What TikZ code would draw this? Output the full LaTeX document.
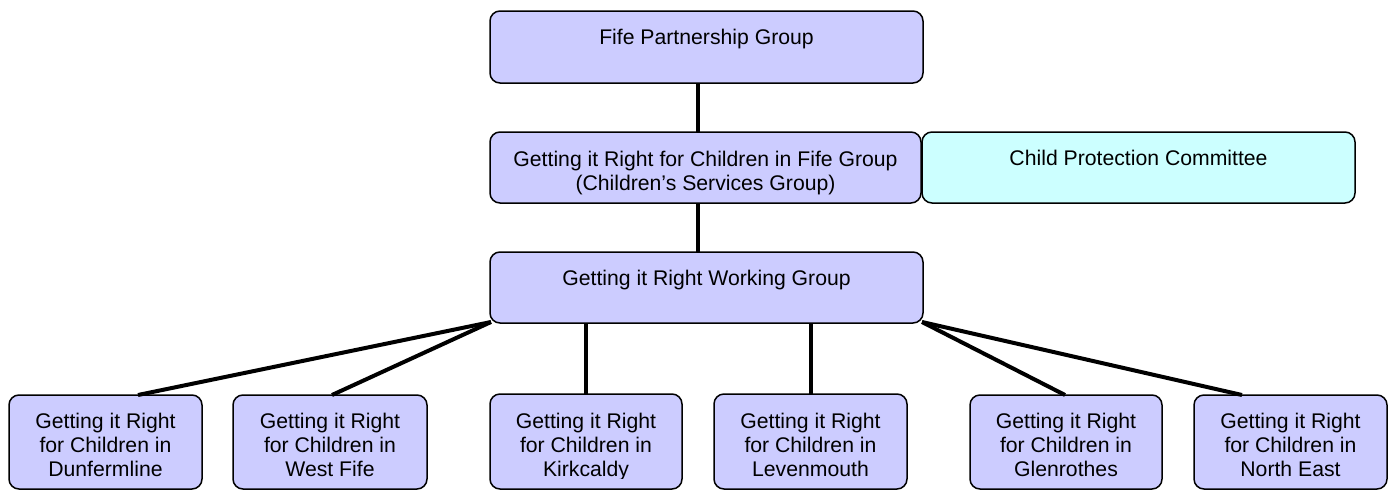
\documentclass[tikz,border=0pt]{standalone}
\usepackage{fontspec}
\setmainfont{Liberation Sans}
\usetikzlibrary{calc}
\definecolor{lav}{HTML}{CCCCFF}
\definecolor{cyanbox}{HTML}{CCFFFF}
\begin{document}
\begin{tikzpicture}[x=1pt,y=-1pt,
  orgbox/.style={draw=black,line width=1.5pt,rounded corners=10pt,fill=lav,inner sep=0pt,outer sep=0pt},
  lbl/.style={inner sep=0pt,outer sep=0pt,anchor=base,font=\fontsize{21.2}{24}\selectfont},
  conn/.style={line width=4pt,black}]
\useasboundingbox (0,0) rectangle (1394,490);
\clip (0,0) rectangle (1394,490);
% boxes
\node[orgbox,minimum width=433pt,minimum height=72pt] (fpg) at (706.5,47) {};
\node[orgbox,minimum width=431pt,minimum height=71pt] (cs) at (705.5,167.5) {};
\node[orgbox,fill=cyanbox,minimum width=433pt,minimum height=71pt] (cpc) at (1138.5,167.5) {};
\node[orgbox,minimum width=433pt,minimum height=71pt] (wg) at (706.5,287.5) {};
\node[orgbox,minimum width=193pt,minimum height=94pt] (dun) at (105.5,442) {};
\node[orgbox,minimum width=194pt,minimum height=94pt] (wf) at (330,442) {};
\node[orgbox,minimum width=192pt,minimum height=95pt] (kir) at (586,441.5) {};
\node[orgbox,minimum width=193pt,minimum height=95pt] (lev) at (810.5,441.5) {};
\node[orgbox,minimum width=192pt,minimum height=94pt] (gle) at (1066,442) {};
\node[orgbox,minimum width=193pt,minimum height=94pt] (ne) at (1290.5,442) {};
% texts
\node[lbl] (fpgt) at ($(fpg.north)+(0,33.5)$) {Fife Partnership Group};
\node[lbl] (cst) at ($(cs.north)+(0,34.5)$) {\parbox[t]{425pt}{\centering Getting it Right for Children in Fife Group\\(Children’s Services Group)}};
\node[lbl] (cpct) at ($(cpc.north)+(0,33)$) {Child Protection Committee};
\node[lbl] (wgt) at ($(wg.north)+(0,33)$) {Getting it Right Working Group};
\begin{scope}
\clip (0,0) rectangle (1394,478);
\node[lbl] (dunt) at ($(dun.north)+(0,33.5)$) {\parbox[t]{190pt}{\centering Getting it Right\\for Children in\\Dunfermline}};
\node[lbl] (wft) at ($(wf.north)+(0,33.5)$) {\parbox[t]{190pt}{\centering Getting it Right\\for Children in\\West Fife}};
\node[lbl] (kirt) at ($(kir.north)+(0,34)$) {\parbox[t]{190pt}{\centering Getting it Right\\for Children in\\Kirkcaldy}};
\node[lbl] (levt) at ($(lev.north)+(0,34)$) {\parbox[t]{190pt}{\centering Getting it Right\\for Children in\\Levenmouth}};
\node[lbl] (glet) at ($(gle.north)+(0,33.5)$) {\parbox[t]{190pt}{\centering Getting it Right\\for Children in\\Glenrothes}};
\node[lbl] (net) at ($(ne.north)+(0,33.5)$) {\parbox[t]{190pt}{\centering Getting it Right\\for Children in\\North East}};
\end{scope}
% connectors
\draw[conn] ($(fpg.south)+(-8.5,0)$) -- ($(cs.north)+(-7.5,0)$);
\draw[conn] ($(cs.south)+(-7.5,0)$) -- ($(wg.north)+(-8.5,0)$);
\draw[conn] ($(wg.south west)+(1,-1)$) -- ($(dun.north)+(32.5,0)$);
\draw[conn] ($(wg.south west)+(1,-1)$) -- ($(wf.north)+(2,0)$);
\draw[conn] (wg.south -| kir.north) -- (kir.north);
\draw[conn] (wg.south -| lev.north) -- (lev.north);
\draw[conn] ($(wg.south east)+(-1,-1)$) -- ($(gle.north)+(-1,0)$);
\draw[conn] ($(wg.south east)+(-1,-1)$) -- ($(ne.north)+(-48.5,0)$);
\end{tikzpicture}
\end{document}
